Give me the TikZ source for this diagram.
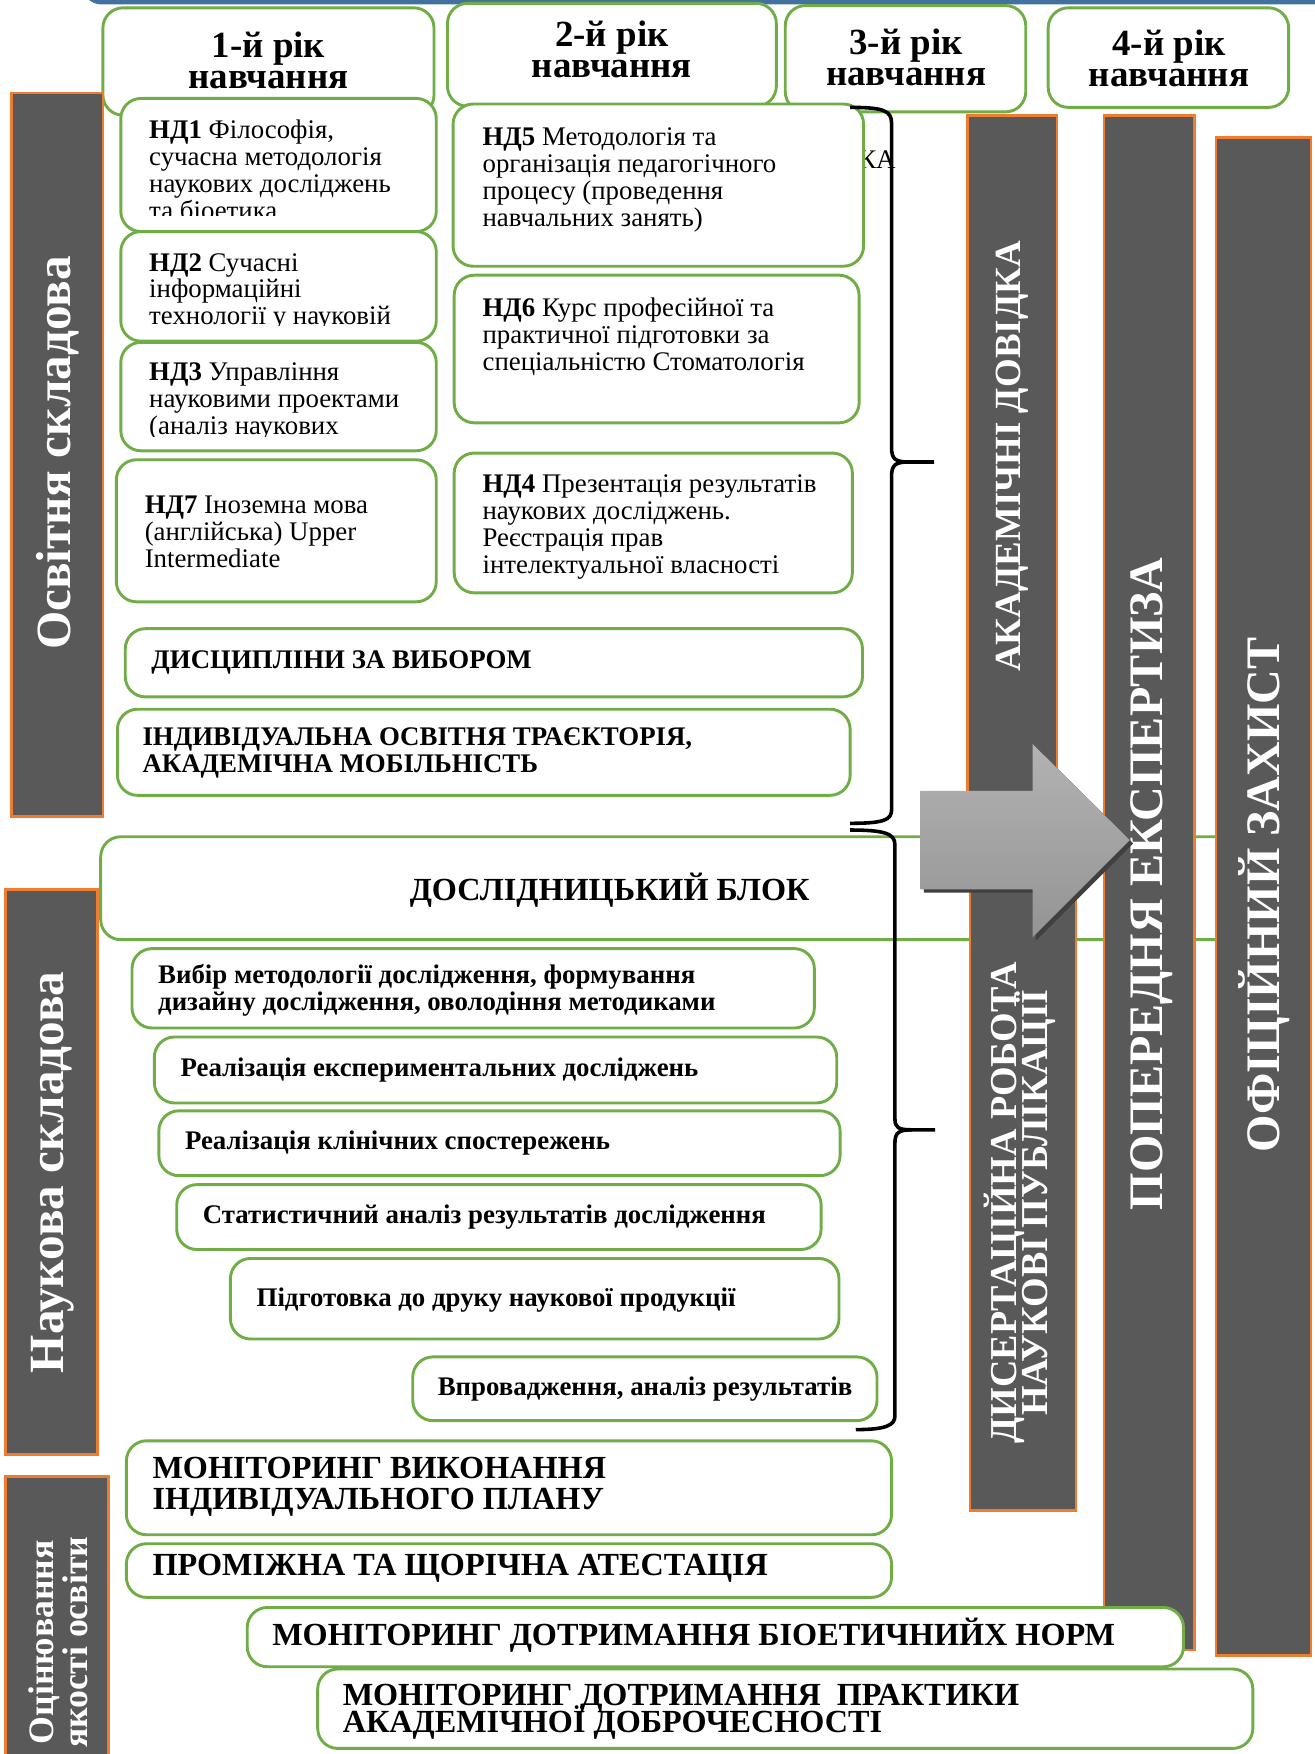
\documentclass[tikz,border=0pt]{standalone}
\usepackage{fontspec}
\setmainfont{Liberation Serif}
\usetikzlibrary{positioning}

\definecolor{zelenyi}{HTML}{70AD47}
\definecolor{pomaranch}{HTML}{ED7D31}
\definecolor{siryi}{HTML}{595959}
\definecolor{synii}{HTML}{41719C}

% рядки можуть стояти щільно, як в оригіналі
\lineskiplimit=-\maxdimen

\tikzset{
  blok/.style={draw=zelenyi, fill=white, line width=1.3pt, rounded corners=9pt},
  smuha/.style={draw=pomaranch, fill=siryi, line width=1.2pt},
  zagtxt/.style={align=center, inner sep=0pt, font=\fontsize{16.5}{14}\selectfont\bfseries},
  ndtxt/.style={anchor=north west, align=left, inner sep=0pt, font=\fontsize{12}{12}\selectfont},
  bltxt/.style={anchor=west, align=left, inner sep=0pt, font=\fontsize{12}{12}\selectfont\bfseries},
  vltxt/.style={anchor=west, align=left, inner sep=0pt, font=\fontsize{14.4}{14}\selectfont\bfseries},
  smtxt/.style={rotate=90, align=center, inner sep=0pt, text=white}
}

\begin{document}
\begin{tikzpicture}[x=0.5pt, y=-0.5pt]

    \useasboundingbox (0,0) rectangle (1175,1568);

    % синя рамка зверху
    \draw[synii, line width=2pt, rounded corners=8pt] (75,-40) -- (75,2) -- (1200,2);

    % роки навчання
    \draw[blok] (92,7) rectangle (388,103);
    \node[zagtxt] (rik1) at (240,54) {1-й рік\\навчання};
    \draw[blok] (400,3) rectangle (694,95);
    \node[zagtxt] (rik2) at (547,44) {2-й рік\\навчання};
    \draw[blok] (702,5) rectangle (917,100);
    \node[zagtxt] (rik3) at (810,51) {3-й рік\\навчання};
    \draw[blok] (937,7) rectangle (1152,96);
    \node[zagtxt] (rik4) at (1045,52) {4-й рік\\навчання};

    % залишок тексту за НД5
    \node[inner sep=0pt, anchor=east, font=\fontsize{12}{12}\selectfont] (ka) at (801,143) {КА};

    % нормативні дисципліни
    \draw[blok] (108,88) rectangle (390,207);
    \begin{scope}
      \clip (108,88) rectangle (390,193);
      \node[ndtxt] (nd1) at (133,107) {\textbf{НД1} Філософія,\\сучасна методологія\\наукових досліджень\\та біоетика};
    \end{scope}
    \draw[blok] (108,207) rectangle (390,305);
    \begin{scope}
      \clip (108,207) rectangle (390,291);
      \node[ndtxt] (nd2) at (133,226) {\textbf{НД2} Сучасні\\інформаційні\\технології у науковій};
    \end{scope}
    \draw[blok] (108,306) rectangle (390,403);
    \begin{scope}
      \clip (108,306) rectangle (390,390);
      \node[ndtxt] (nd3) at (133,324) {\textbf{НД3} Управління\\науковими проектами\\(аналіз наукових};
    \end{scope}
    \draw[blok] (104,411) rectangle (390,538);
    \node[ndtxt] (nd7) at (129,443) {\textbf{НД7} Іноземна мова\\(англійська) Upper\\Intermediate};

    \draw[blok] (405,93) rectangle (772,238);
    \node[ndtxt] (nd5) at (431,114) {\textbf{НД5} Методологія та\\організація педагогічного\\процесу (проведення\\навчальних занять)};
    \draw[blok] (406,246) rectangle (768,378);
    \node[ndtxt] (nd6) at (431,266) {\textbf{НД6} Курс професійної та\\практичної підготовки за\\спеціальністю Стоматологія};
    \draw[blok] (406,405) rectangle (762,530);
    \node[ndtxt] (nd4) at (431,424) {\textbf{НД4} Презентація результатів\\наукових досліджень.\\Реєстрація прав\\інтелектуальної власності};

    \draw[blok] (112,562) rectangle (771,623);
    \node[bltxt] (vybir) at (135,592) {ДИСЦИПЛІНИ ЗА ВИБОРОМ};
    \draw[blok] (105,634) rectangle (760,711);
    \node[bltxt] (trajekt) at (127,673) {ІНДИВІДУАЛЬНА ОСВІТНЯ ТРАЄКТОРІЯ,\\АКАДЕМІЧНА МОБІЛЬНІСТЬ};

    % дослідницький блок
    \draw[blok] (90,748) rectangle (1130,840);
    \node[inner sep=0pt, font=\fontsize{14.4}{14}\selectfont\bfseries] (doslblok) at (545,796) {ДОСЛІДНИЦЬКИЙ БЛОК};

    \draw[blok] (118,848) rectangle (728,919);
    \node[bltxt] (metod) at (141,885) {Вибір методології дослідження, формування\\дизайну дослідження, оволодіння методиками};
    \draw[blok] (138,927) rectangle (748,986);
    \node[bltxt] (eksper) at (161,957) {Реалізація експериментальних досліджень};
    \draw[blok] (142,993) rectangle (751,1051);
    \node[bltxt] (klin) at (165,1022) {Реалізація клінічних спостережень};
    \draw[blok] (158,1059) rectangle (734,1117);
    \node[bltxt] (stat) at (181,1088) {Статистичний аналіз результатів дослідження};
    \draw[blok] (206,1125) rectangle (750,1197);
    \node[bltxt] (druk) at (229,1162) {Підготовка до друку наукової продукції};
    \draw[blok] (369,1213) rectangle (784,1270);
    \node[bltxt] (vprov) at (391,1242) {Впровадження, аналіз результатів};

    % складові зліва
    \draw[smuha] (10,83) rectangle (92,730);
    \node[smtxt, font=\fontsize{22}{22}\selectfont\bfseries] (osvita) at (52,405) {Освітня складова};
    \draw[smuha] (5,795) rectangle (87,1300);
    \node[smtxt, font=\fontsize{22}{22}\selectfont\bfseries] (nauka) at (47,1048) {Наукова складова};
    \draw[smuha] (5,1320) rectangle (97,1600);
    \node[smtxt, font=\fontsize{16}{15}\selectfont\bfseries] (yakist) at (52,1468) {Оцінювання\\якості освіти};

    % смуги справа
    \draw[smuha] (865,103) rectangle (945,790);
    \node[smtxt, font=\fontsize{16.5}{16}\selectfont\bfseries] (dovidka) at (905,408) {АКАДЕМІЧНІ ДОВІДКА};
    \draw[smuha] (867,795) rectangle (962,1350);
    \node[smtxt, font=\fontsize{17}{14}\selectfont\bfseries] (dysert) at (912,1075) {ДИСЕРТАЦІЙНА РОБОТА\\НАУКОВІ ПУБЛІКАЦІЇ};
    \draw[smuha] (987,103) rectangle (1068,1475);
    \node[smtxt, font=\fontsize{21.5}{21}\selectfont\bfseries] (ekspert) at (1030,790) {ПОПЕРЕДНЯ ЕКСПЕРТИЗА};
    \draw[smuha] (1087,123) rectangle (1172,1480);
    \node[smtxt, font=\fontsize{21.5}{21}\selectfont\bfseries] (zakhyst) at (1130,800) {ОФІЦІЙНИЙ ЗАХИСТ};

    % оцінювання
    \draw[blok] (113,1288) rectangle (797,1372);
    \node[vltxt] (monplan) at (136,1329) {МОНІТОРИНГ ВИКОНАННЯ\\ІНДИВІДУАЛЬНОГО ПЛАНУ};
    \draw[blok] (113,1380) rectangle (797,1428);
    \node[vltxt] (atest) at (136,1402) {ПРОМІЖНА ТА ЩОРІЧНА АТЕСТАЦІЯ};
    \draw[blok] (221,1437) rectangle (1058,1490);
    \node[vltxt] (bioet) at (243,1462) {МОНІТОРИНГ ДОТРИМАННЯ БІОЕТИЧНИЙХ НОРМ};
    \draw[blok] (284,1492) rectangle (1120,1563);
    \node[vltxt, font=\fontsize{14.4}{12}\selectfont\bfseries] (dobro) at (306,1530) {МОНІТОРИНГ ДОТРИМАННЯ\ \ ПРАКТИКИ\\АКАДЕМІЧНОЇ ДОБРОЧЕСНОСТІ};

    % стрілка
    \fill[black!75] (826,710) -- (926,710) -- (926,668) -- (1013,754) -- (926,841) -- (926,798) -- (826,798) -- cycle;
    \shade[top color=black!30, bottom color=black!42] (823,707) -- (923,707) -- (923,665) -- (1010,751) -- (923,838) -- (923,795) -- (823,795) -- cycle;

    % фігурні дужки
    \draw[line width=1.6pt] (760,96) .. controls (790,96) and (797,99) .. (797,110) -- (797,400) .. controls (797,410) and (800,413) .. (812,413) -- (835,413);
    \draw[line width=1.6pt] (812,413) .. controls (800,413) and (797,416) .. (797,426) -- (797,724) .. controls (797,733) and (790,736) .. (760,736);
    \draw[line width=1.6pt] (760,742) .. controls (790,742) and (800,745) .. (800,755) -- (800,1000) .. controls (800,1008) and (803,1010) .. (815,1010) -- (836,1010);
    \draw[line width=1.6pt] (815,1010) .. controls (803,1010) and (800,1013) .. (800,1022) -- (800,1266) .. controls (800,1274) and (792,1278) .. (765,1278);

\end{tikzpicture}
\end{document}
